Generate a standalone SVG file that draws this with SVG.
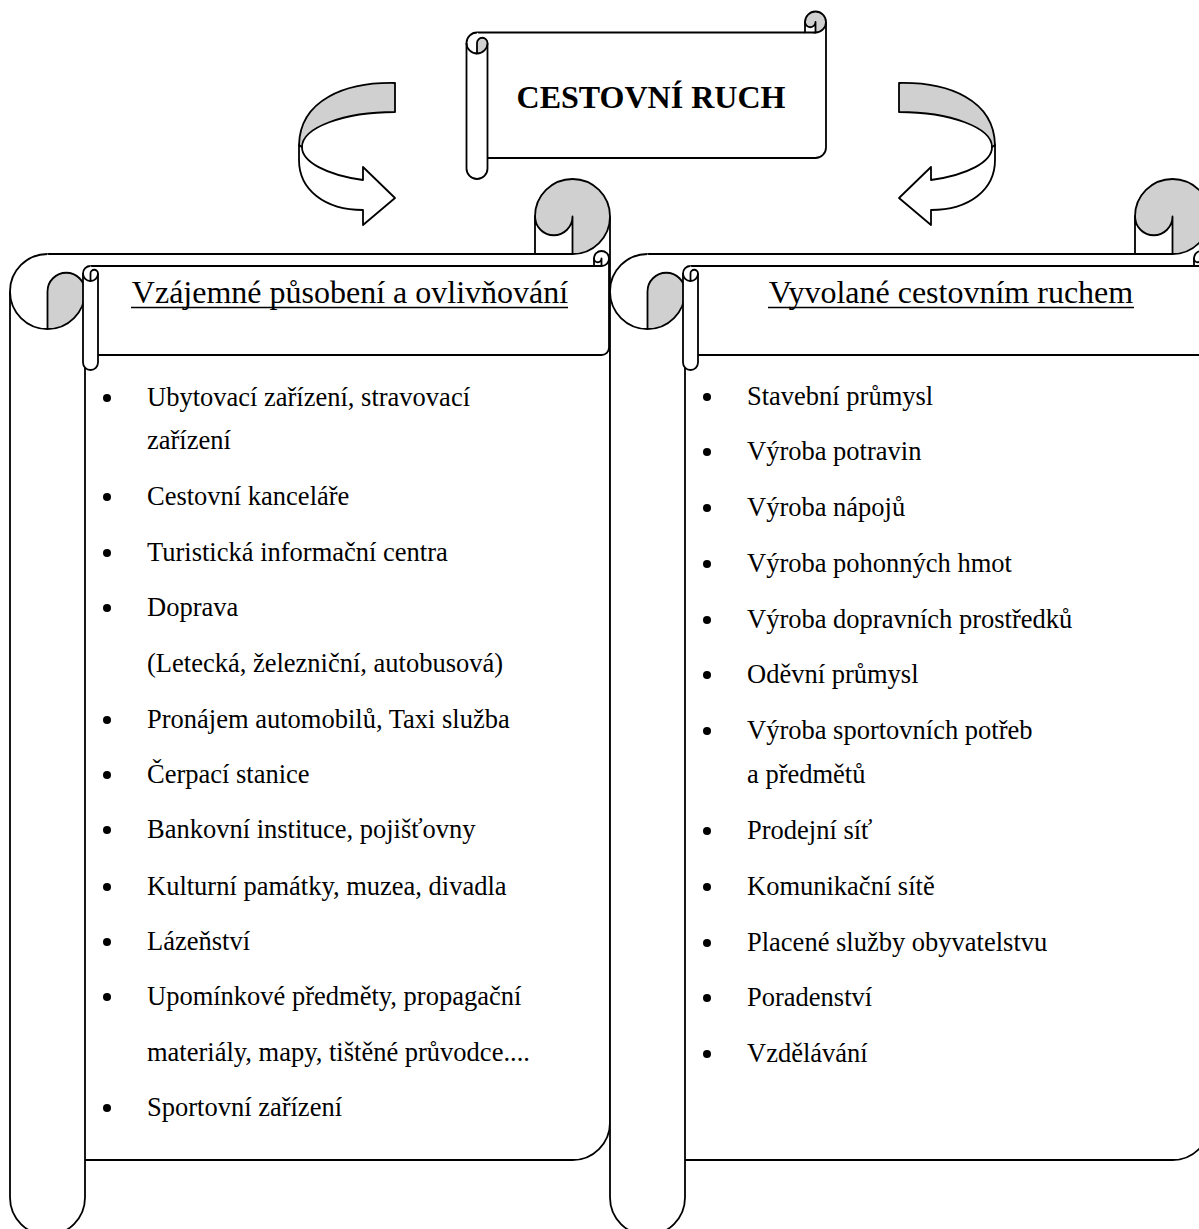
<svg xmlns="http://www.w3.org/2000/svg" xmlns:xlink="http://www.w3.org/1999/xlink" width="1199" height="1229" viewBox="0 0 1199 1229">
  <style>
    .ln { fill: none; stroke: #000; stroke-width: 1.8; stroke-linejoin: round; }
    .wf { fill: #fff; stroke: #000; stroke-width: 1.8; stroke-linejoin: round; }
    .gf { fill: #d0d0d0; stroke: #000; stroke-width: 1.8; stroke-linejoin: round; }
    .bg { fill: #fff; stroke: none; }
    .title { font-family: "Liberation Serif", "Times New Roman", serif; font-size: 32px; font-weight: bold; fill: #000; }
    .head { font-family: "Liberation Serif", "Times New Roman", serif; font-size: 32px; fill: #000; }
    .item { font-family: "Liberation Serif", "Times New Roman", serif; font-size: 26.5px; fill: #000; }
    .ul { stroke: #000; stroke-width: 1.6; }
    .dot { fill: #000; }
  </style>
  <defs>
    <!-- large scroll: left roll, top-right curl -->
    <g id="bigScroll">
      <path class="bg" d="M47.5,254 H610 V1122.5 A37.5,37.5 0 0 1 572.5,1160 H47.5 Z"/>
      <path class="ln" d="M47.5,254 H535 M610,216.5 V1122.5 A37.5,37.5 0 0 1 572.5,1160 H85"/>
      <path class="wf" d="M47.5,254 A37.5,37.5 0 0 0 10,291.5 V1197.5 A37.5,37.5 0 0 0 85,1197.5 V291.5"/>
      <path class="ln" d="M10,291.5 A37.5,37.5 0 0 0 47.5,329"/>
      <path class="gf" d="M47.5,291.5 V329 A37.5,37.5 0 0 0 85,291.5 A18.75,18.75 0 0 0 47.5,291.5 Z"/>
      <circle class="gf" cx="572.5" cy="216.5" r="37.5"/>
      <path class="wf" d="M535,216.5 V254 H572.5 V216.5 A18.75,18.75 0 0 1 535,216.5 Z"/>
    </g>
    <!-- small banner scroll for the column headings -->
    <g id="headScroll">
      <path class="bg" d="M90.5,266 H609 V347.5 A7.5,7.5 0 0 1 601.5,355 H90.5 Z"/>
      <path class="ln" d="M90.5,266 H594 M609,258.5 V347.5 A7.5,7.5 0 0 1 601.5,355 H98"/>
      <path class="wf" d="M90.5,266 A7.5,7.5 0 0 0 83,273.5 V362.5 A7.5,7.5 0 0 0 98,362.5 V273.5"/>
      <path class="ln" d="M83,273.5 A7.5,7.5 0 0 0 90.5,281"/>
      <path class="wf" d="M90.5,273.5 V281 A7.5,7.5 0 0 0 98,273.5 A3.75,3.75 0 0 0 90.5,273.5 Z"/>
      <circle class="wf" cx="601.5" cy="258.5" r="7.5"/>
      <path class="wf" d="M594,258.5 V266 H601.5 V258.5 A3.75,3.75 0 0 1 594,258.5 Z"/>
    </g>
    <!-- curved U-turn arrow, back side shaded -->
    <g id="turnArrow">
      <path class="wf" d="M299,145 L299,160 C299,190 325,210 363,210 L363,225 L395,198 L363,167 L363,180 A93,35 0 0 1 302,147 Z"/>
      <path class="gf" d="M395,83 C345,82 300,100 299,145 L302,147 A93,35 0 0 1 395,112 Z"/>
    </g>
  </defs>

  <!-- connectors -->
  <g id="connectors">
    <use xlink:href="#turnArrow" href="#turnArrow"/>
    <use xlink:href="#turnArrow" href="#turnArrow" transform="translate(1294,0) scale(-1,1)"/>
  </g>

  <!-- title -->
  <g id="node-title">
    <path class="bg" d="M477,32.5 H826 V147.5 A10.5,10.5 0 0 1 815.5,158 H477 Z"/>
    <path class="ln" d="M477,32.5 H805 M826,22 V147.5 A10.5,10.5 0 0 1 815.5,158 H487.5"/>
    <path class="wf" d="M477,32.5 A10.5,10.5 0 0 0 466.5,43 V168.5 A10.5,10.5 0 0 0 487.5,168.5 V43"/>
    <path class="ln" d="M466.5,43 A10.5,10.5 0 0 0 477,53.5"/>
    <path class="gf" d="M477,43 V53.5 A10.5,10.5 0 0 0 487.5,43 A5.25,5.25 0 0 0 477,43 Z"/>
    <circle class="gf" cx="815.5" cy="22" r="10.5"/>
    <path class="wf" d="M805,22 V32.5 H815.5 V22 A5.25,5.25 0 0 1 805,22 Z"/>
    <text class="title" x="651" y="108" text-anchor="middle">CESTOVNÍ RUCH</text>
  </g>

  <!-- left column -->
  <g id="node-left">
    <use xlink:href="#bigScroll" href="#bigScroll"/>
    <use xlink:href="#headScroll" href="#headScroll"/>
    <text class="head" x="350" y="303" text-anchor="middle">Vzájemné působení a ovlivňování</text>
    <line class="ul" x1="131" y1="307.5" x2="568" y2="307.5"/>
    <g class="dot">
      <circle cx="107" cy="398" r="4"/>
      <circle cx="107" cy="497" r="4"/>
      <circle cx="107" cy="553" r="4"/>
      <circle cx="107" cy="608" r="4"/>
      <circle cx="107" cy="720" r="4"/>
      <circle cx="107" cy="775" r="4"/>
      <circle cx="107" cy="830" r="4"/>
      <circle cx="107" cy="887" r="4"/>
      <circle cx="107" cy="942" r="4"/>
      <circle cx="107" cy="997" r="4"/>
      <circle cx="107" cy="1108" r="4"/>
    </g>
    <g class="item">
      <text x="147" y="406">Ubytovací zařízení, stravovací</text>
      <text x="147" y="449">zařízení</text>
      <text x="147" y="505">Cestovní kanceláře</text>
      <text x="147" y="561">Turistická informační centra</text>
      <text x="147" y="616">Doprava</text>
      <text x="147" y="672">(Letecká, železniční, autobusová)</text>
      <text x="147" y="728">Pronájem automobilů, Taxi služba</text>
      <text x="147" y="783">Čerpací stanice</text>
      <text x="147" y="838">Bankovní instituce, pojišťovny</text>
      <text x="147" y="895">Kulturní památky, muzea, divadla</text>
      <text x="147" y="950">Lázeňství</text>
      <text x="147" y="1005">Upomínkové předměty, propagační</text>
      <text x="147" y="1061">materiály, mapy, tištěné průvodce....</text>
      <text x="147" y="1116">Sportovní zařízení</text>
    </g>
  </g>

  <!-- right column -->
  <g id="node-right">
    <use xlink:href="#bigScroll" href="#bigScroll" transform="translate(600,0)"/>
    <use xlink:href="#headScroll" href="#headScroll" transform="translate(600,0)"/>
    <text class="head" x="951" y="303" text-anchor="middle">Vyvolané cestovním ruchem</text>
    <line class="ul" x1="768" y1="307.5" x2="1134" y2="307.5"/>
    <g class="dot">
      <circle cx="707" cy="397" r="4"/>
      <circle cx="707" cy="452" r="4"/>
      <circle cx="707" cy="508" r="4"/>
      <circle cx="707" cy="564" r="4"/>
      <circle cx="707" cy="620" r="4"/>
      <circle cx="707" cy="675" r="4"/>
      <circle cx="707" cy="731" r="4"/>
      <circle cx="707" cy="831" r="4"/>
      <circle cx="707" cy="887" r="4"/>
      <circle cx="707" cy="943" r="4"/>
      <circle cx="707" cy="998" r="4"/>
      <circle cx="707" cy="1054" r="4"/>
    </g>
    <g class="item">
      <text x="747" y="405">Stavební průmysl</text>
      <text x="747" y="460">Výroba potravin</text>
      <text x="747" y="516">Výroba nápojů</text>
      <text x="747" y="572">Výroba pohonných hmot</text>
      <text x="747" y="628">Výroba dopravních prostředků</text>
      <text x="747" y="683">Oděvní průmysl</text>
      <text x="747" y="739">Výroba sportovních potřeb</text>
      <text x="747" y="783">a předmětů</text>
      <text x="747" y="839">Prodejní síť</text>
      <text x="747" y="895">Komunikační sítě</text>
      <text x="747" y="951">Placené služby obyvatelstvu</text>
      <text x="747" y="1006">Poradenství</text>
      <text x="747" y="1062">Vzdělávání</text>
    </g>
  </g>
</svg>
